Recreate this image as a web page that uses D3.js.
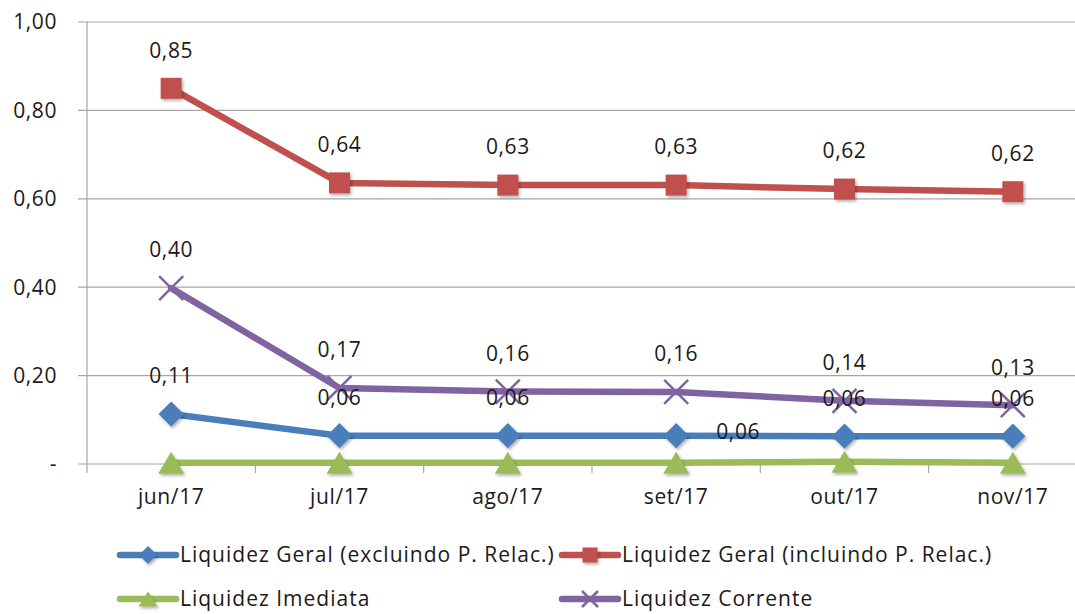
<!DOCTYPE html>
<html><head><meta charset="utf-8">
<script src="https://cdn.jsdelivr.net/npm/d3@7"></script>
<style>
html,body{margin:0;padding:0;background:#fff;}
svg text{font-family:"Open Sans",Lato,sans-serif;font-size:21px;letter-spacing:0.6px;}
svg .leg text{letter-spacing:1px;}
</style></head>
<body><svg id="c" width="1075" height="614"></svg>
<script>
const categories = ["jun/17","jul/17","ago/17","set/17","out/17","nov/17"];
const geralExcl = [0.113,0.064,0.064,0.064,0.063,0.063];
const geralIncl = [0.85,0.636,0.631,0.631,0.622,0.616];
const imediata = [0.003,0.003,0.003,0.003,0.005,0.003];
const corrente = [0.398,0.172,0.164,0.163,0.143,0.133];
const yTicks = [0,0.2,0.4,0.6,0.8,1.0];

const series = [
  {name:"Liquidez Geral (excluindo P. Relac.)", values:geralExcl, color:"#4a7ebb", marker:"diamond", labels:true},
  {name:"Liquidez Geral (incluindo P. Relac.)", values:geralIncl, color:"#c0504d", marker:"square", labels:true},
  {name:"Liquidez Imediata", values:imediata, color:"#9bbb59", marker:"triangle", labels:false},
  {name:"Liquidez Corrente", values:corrente, color:"#8064a2", marker:"x", labels:true}
];

const svg = d3.select("#c");
const x = d3.scaleBand().domain(categories).range([87,1097]);
const y = d3.scaleLinear().domain([0,1]).range([464,22]);
const fmt = v => v===0 ? "-" : d3.format(".2f")(v).replace(".",",");

const defs = svg.append("defs");
const f = defs.append("filter").attr("id","sh").attr("x","-50%").attr("y","-50%").attr("width","200%").attr("height","200%");
f.append("feDropShadow").attr("dx",1.5).attr("dy",2).attr("stdDeviation",1.5).attr("flood-color","#000").attr("flood-opacity",0.3);

svg.append("g").selectAll("line").data(yTicks).join("line")
  .attr("x1",78).attr("x2",1075).attr("y1",d=>y(d)).attr("y2",d=>y(d))
  .attr("stroke","#a6a6a6").attr("stroke-width",1.2);
svg.append("line").attr("x1",87).attr("x2",87).attr("y1",22).attr("y2",473).attr("stroke","#a6a6a6").attr("stroke-width",1.2);
const bounds = categories.map(c=>x(c)).concat([x(categories[categories.length-1])+x.bandwidth()]).slice(1);
svg.append("g").selectAll("line").data(bounds).join("line")
  .attr("x1",d=>d).attr("x2",d=>d).attr("y1",464).attr("y2",473)
  .attr("stroke","#a6a6a6").attr("stroke-width",1.2);
svg.append("g").selectAll("text").data(yTicks).join("text")
  .attr("x",57).attr("y",d=>y(d)).attr("dy","0.35em").attr("text-anchor","end")
  .attr("fill","#1a1a1a").text(fmt);
svg.append("g").selectAll("text").data(categories).join("text")
  .attr("x",d=>x(d)+x.bandwidth()/2).attr("y",497).attr("dy","0.35em").attr("text-anchor","middle")
  .attr("fill","#1a1a1a").text(d=>d);

const cx = c => x(c)+x.bandwidth()/2;
function drawMarker(g, type, color, size){
  if(type==="diamond"){
    const s=size*0.6;
    g.append("path").attr("d",`M0,${-s}L${s},0L0,${s}L${-s},0Z`).attr("fill",color).attr("filter","url(#sh)");
  } else if(type==="square"){
    const s=size/2;
    g.append("rect").attr("x",-s).attr("y",-s).attr("width",2*s).attr("height",2*s).attr("fill",color).attr("filter","url(#sh)");
  } else if(type==="triangle"){
    const s=size/2;
    g.append("path").attr("d",`M0,${-s}L${s+2},${s}L${-s-2},${s}Z`).attr("fill",color).attr("filter","url(#sh)");
  } else if(type==="x"){
    const s=size/2;
    g.append("path").attr("d",`M${-s},${-s}L${s},${s}M${-s},${s}L${s},${-s}`).attr("stroke",color).attr("stroke-width",2.5).attr("fill","none");
  }
}

const line = d3.line().x(d=>cx(d.c)).y(d=>y(d.v));
[2,0,3,1].forEach(i=>{
  const s = series[i];
  const pts = categories.map((c,k)=>({c, v:s.values[k]}));
  svg.append("path").datum(pts).attr("d",line).attr("fill","none")
    .attr("stroke",s.color).attr("stroke-width",6.5).attr("stroke-linejoin","round").attr("stroke-linecap","round");
  pts.forEach(p=>{
    const g = svg.append("g").attr("transform",`translate(${cx(p.c)},${y(p.v)})`);
    drawMarker(g, s.marker, s.color, s.marker==="x"?24:s.marker==="triangle"?22:21);
  });
});

series.forEach((s,i)=>{
  if(!s.labels) return;
  svg.append("g").selectAll("text").data(categories).join("text")
    .attr("x",(c,k)=> (i===0 && k===3) ? cx(c)+62 : cx(c))
    .attr("y",(c,k)=> (i===0 && k===3) ? y(s.values[k])-4 : y(s.values[k])-38)
    .attr("dy","0.35em").attr("text-anchor","middle")
    .attr("fill","#1a1a1a")
    .text((c,k)=>fmt(s.values[k]));
});

const legendPos = [[118,555],[560,555],[118,599],[560,599]];
const leg = svg.append("g").attr("class","leg");
series.forEach((s,i)=>{
  const [lx,ly] = legendPos[i];
  const g = leg.append("g").attr("transform",`translate(${lx},${ly})`);
  g.append("line").attr("x1",2).attr("x2",58).attr("y1",0).attr("y2",0)
    .attr("stroke",s.color).attr("stroke-width",6.5).attr("stroke-linecap","round");
  const m = g.append("g").attr("transform","translate(30,0)");
  drawMarker(m, s.marker, s.color, s.marker==="x"?16:15);
  g.append("text").attr("x",62).attr("y",0).attr("dy","0.35em").attr("fill","#1a1a1a").text(s.name);
});
</script></body></html>
